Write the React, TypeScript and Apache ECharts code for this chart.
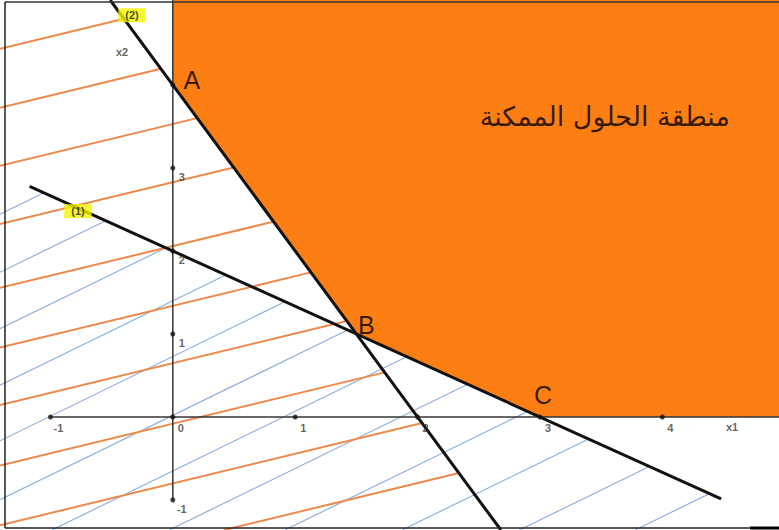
import React, { useEffect, useRef } from "react";
import * as echarts from "echarts";

// ---- data ----
const X_RANGE = [-1.412, 4.953];
const Y_RANGE = [-1.361, 5.024];
// constraint lines: a*x1 + b*x2 = c
const constraint1 = [2, 3, 6]; // (1)
const constraint2 = [2, 1, 4]; // (2)
const constraint1Span = [-1.17, 4.48]; // x1 extent of drawn line (1)
const vertexNames = ["A", "B", "C"];
const vertexX = [0, 1.5, 3];
const vertexY = [4, 1, 0];
const xTicks = [-1, 0, 1, 2, 3, 4];
const yTicks = [-1, 1, 2, 3, 4];
const xTickLabels = ["-1", "0", "1", "2", "3", "4"];
const yTickLabels = ["-1", "1", "2", "3"];
const yTickLabelValues = [-1, 1, 2, 3];
const orangeHatchSlope = 0.357;
const orangeHatchIntercepts = [4.94, 4.23, 3.53, 2.83, 2.06, 1.34, 0.65, -0.08, -0.8, -1.51];
const blueHatchSlope = 0.72;
const blueHatchIntercepts = [3.46, 2.76, 2.08, 1.4, 0.73, 0.02, -0.65, -1.34, -2.02, -2.71, -3.4, -4.08];
const regionTitle = "منطقة الحلول الممكنة";
const regionTitlePos = [3.53, 3.62];
const constraintTags = ["(1)", "(2)"];
const constraintTagX = [-0.775, -0.333];
const constraintTagY = [2.48, 4.84];
const axisNames = ["x1", "x2"];
const axisNameX = [4.57, -0.415];
const axisNameY = [-0.12, 4.4];

const ORANGE = "#FD7F14";

function lineYAt(coef: number[], x: number) {
  return (coef[2] - coef[0] * x) / coef[1];
}
function lineXAt(coef: number[], y: number) {
  return (coef[2] - coef[1] * y) / coef[0];
}

// hatch segment y = c + m x, starting at plot edge, ending at constraint line
function hatchSegments(intercepts: number[], m: number, coef: number[], xCap: number) {
  const segs: number[][] = [];
  for (const c of intercepts) {
    let xs = X_RANGE[0];
    const yAtLeft = c + m * xs;
    if (yAtLeft < Y_RANGE[0]) xs = (Y_RANGE[0] - c) / m;
    let xe = (coef[2] - coef[1] * c) / (coef[0] + coef[1] * m);
    xe = Math.min(xe, xCap);
    const yTopX = (Y_RANGE[1] - c) / m;
    xe = Math.min(xe, yTopX);
    if (xe <= xs) continue;
    segs.push([xs, c + m * xs, xe, c + m * xe]);
  }
  return segs;
}

export default function App() {
  const ref = useRef<HTMLDivElement>(null);
  useEffect(() => {
    if (!ref.current) return;
    const chart = echarts.init(ref.current, null, { renderer: "svg" });

    const A = [vertexX[0], vertexY[0]];
    const B = [vertexX[1], vertexY[1]];
    const C = [vertexX[2], vertexY[2]];
    const feasible = [
      [0, Y_RANGE[1]],
      A,
      B,
      C,
      [X_RANGE[1], 0],
      [X_RANGE[1], Y_RANGE[1]],
    ];

    const orangeSegs = hatchSegments(orangeHatchIntercepts, orangeHatchSlope, constraint2, X_RANGE[1]);
    const blueSegs = hatchSegments(blueHatchIntercepts, blueHatchSlope, constraint1, constraint1Span[1]);

    const line2 = [
      [lineXAt(constraint2, Y_RANGE[1]), Y_RANGE[1]],
      [lineXAt(constraint2, Y_RANGE[0]), Y_RANGE[0]],
    ];
    const line1 = [
      [constraint1Span[0], lineYAt(constraint1, constraint1Span[0])],
      [constraint1Span[1], lineYAt(constraint1, constraint1Span[1])],
    ];

    const segRender = (color: string, width: number) => (params: any, api: any) => {
      const p1 = api.coord([api.value(0), api.value(1)]);
      const p2 = api.coord([api.value(2), api.value(3)]);
      return {
        type: "line",
        shape: { x1: p1[0], y1: p1[1], x2: p2[0], y2: p2[1] },
        style: { stroke: color, lineWidth: width },
      };
    };

    const tickFont = {
      fontFamily: "Liberation Sans",
      fontWeight: "bold" as const,
      fontSize: 11,
      color: "#3a3a3a",
    };

    chart.setOption({
      animation: false,
      grid: { left: 0, right: 0, top: 0, bottom: 0 },
      xAxis: { type: "value", min: X_RANGE[0], max: X_RANGE[1], show: false },
      yAxis: { type: "value", min: Y_RANGE[0], max: Y_RANGE[1], show: false },
      graphic: [
        { type: "line", shape: { x1: 5, y1: 2, x2: 779, y2: 2 }, style: { stroke: "#333", lineWidth: 1.5 }, z: 100 },
        { type: "line", shape: { x1: 5, y1: 2, x2: 5, y2: 528 }, style: { stroke: "#222", lineWidth: 1.5 }, z: 100 },
        { type: "line", shape: { x1: 5, y1: 528, x2: 750, y2: 528 }, style: { stroke: "#222", lineWidth: 1.5 }, z: 100 },
        { type: "line", shape: { x1: 750, y1: 528, x2: 779, y2: 528 }, style: { stroke: "#000", lineWidth: 3 }, z: 100 },
      ],
      series: [
        {
          type: "custom",
          z: 1,
          data: [0],
          renderItem: (params: any, api: any) => ({
            type: "polygon",
            shape: { points: feasible.map((p) => api.coord(p)) },
            style: { fill: ORANGE },
          }),
        },
        { type: "custom", z: 2, data: blueSegs, renderItem: segRender("#8FB1DA", 1.2) },
        { type: "custom", z: 3, data: orangeSegs, renderItem: segRender("#EC8A4C", 2) },
        {
          type: "line",
          z: 4,
          data: [[xTicks[0], 0], [X_RANGE[1], 0]],
          symbol: "none",
          lineStyle: { color: "#333", width: 1.5 },
        },
        {
          type: "line",
          z: 4,
          data: [[0, yTicks[0]], [0, Y_RANGE[1]]],
          symbol: "none",
          lineStyle: { color: "#333", width: 1.5 },
        },
        {
          type: "line",
          z: 5,
          data: line2,
          symbol: "none",
          lineStyle: { color: "#111", width: 3 },
        },
        {
          type: "line",
          z: 5,
          data: line1,
          symbol: "none",
          lineStyle: { color: "#111", width: 3 },
        },
        {
          type: "scatter",
          z: 6,
          symbolSize: 5,
          itemStyle: { color: "#111" },
          data: [...xTicks.map((x) => [x, 0]), ...yTicks.map((y) => [0, y])],
        },
        {
          type: "scatter",
          z: 7,
          symbolSize: 0,
          data: xTickLabels.map((t, i) => ({ value: [xTicks[i], 0], name: t })),
          label: { show: true, formatter: "{b}", position: "inside", offset: [8, 11], ...tickFont },
        },
        {
          type: "scatter",
          z: 7,
          symbolSize: 0,
          data: yTickLabels.map((t, i) => ({ value: [0, yTickLabelValues[i]], name: t })),
          label: { show: true, formatter: "{b}", position: "inside", offset: [9, 9], ...tickFont },
        },
        {
          type: "scatter",
          z: 7,
          symbolSize: 0,
          data: axisNames.map((t, i) => ({ value: [axisNameX[i], axisNameY[i]], name: t })),
          label: { show: true, formatter: "{b}", position: "inside", ...tickFont, fontSize: 11 },
        },
        {
          type: "scatter",
          z: 8,
          symbolSize: 0,
          data: constraintTags.map((t, i) => ({ value: [constraintTagX[i], constraintTagY[i]], name: t })),
          label: {
            show: true,
            formatter: "{b}",
            position: "inside",
            ...tickFont,
            fontSize: 11,
            color: "#222",
            backgroundColor: "#F4F400",
            padding: [2, 7, 1, 7],
          },
        },
        {
          type: "scatter",
          z: 8,
          symbolSize: 0,
          data: vertexNames.map((t, i) => ({ value: [vertexX[i], vertexY[i]], name: t })),
          label: {
            show: true,
            formatter: "{b}",
            position: "inside",
            fontFamily: "Liberation Sans",
            fontSize: 25,
            color: "#000",
          },
          labelLayout: (params: any) => {
            const offs = [[19, -5], [10, -9], [3, -22]];
            const o = offs[params.dataIndex];
            return { dx: o[0], dy: o[1] };
          },
        },
        {
          type: "scatter",
          z: 8,
          symbolSize: 0,
          data: [{ value: regionTitlePos, name: regionTitle }],
          label: {
            show: true,
            formatter: "{b}",
            position: "inside",
            fontFamily: "DejaVu Sans",
            fontSize: 27,
            color: "#000",
          },
        },
      ],
    });
    return () => chart.dispose();
  }, []);
  return (
    <div
      ref={ref}
      style={{ position: "absolute", left: 0, top: 0, width: 779, height: 530, background: "#fff" }}
    />
  );
}
